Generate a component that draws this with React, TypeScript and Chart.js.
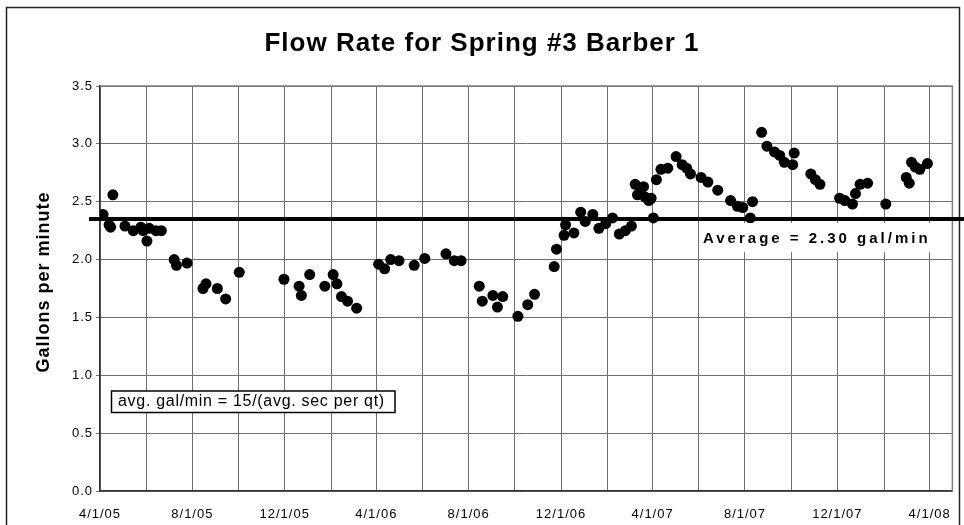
import React, { useEffect, useRef } from "react";
import { Chart, registerables } from "chart.js";

Chart.register(...registerables);

// ---- Data ----
const sampleDates: string[] = [
  "2005-04-05", "2005-04-13", "2005-04-15", "2005-04-18", "2005-05-04", "2005-05-15", "2005-05-25", "2005-05-28",
  "2005-06-02", "2005-06-05", "2005-06-14", "2005-06-21", "2005-07-08", "2005-07-11", "2005-07-25",
  "2005-08-15", "2005-08-19", "2005-09-03", "2005-09-14", "2005-10-02", "2005-11-30",
  "2005-12-20", "2005-12-23", "2006-01-03", "2006-01-23", "2006-02-03", "2006-02-08", "2006-02-14", "2006-02-22",
  "2006-03-06", "2006-04-04", "2006-04-12", "2006-04-20", "2006-05-01", "2006-05-21", "2006-06-04",
  "2006-07-02", "2006-07-13", "2006-07-22", "2006-08-15", "2006-08-19", "2006-09-02", "2006-09-08", "2006-09-15",
  "2006-10-05", "2006-10-18", "2006-10-27", "2006-11-22", "2006-11-25", "2006-12-05", "2006-12-07",
  "2006-12-18", "2006-12-27", "2007-01-02", "2007-01-12", "2007-01-20", "2007-01-29", "2007-02-07",
  "2007-02-16", "2007-02-24", "2007-03-04", "2007-03-09", "2007-03-12", "2007-03-16", "2007-03-20",
  "2007-03-22", "2007-03-27", "2007-03-30", "2007-04-02", "2007-04-06", "2007-04-12", "2007-04-21",
  "2007-05-02", "2007-05-10", "2007-05-16", "2007-05-21", "2007-06-04", "2007-06-13", "2007-06-26",
  "2007-07-13", "2007-07-22", "2007-07-29", "2007-08-08", "2007-08-11", "2007-08-23", "2007-08-30",
  "2007-09-09", "2007-09-16", "2007-09-22", "2007-10-03", "2007-10-05", "2007-10-27", "2007-11-02",
  "2007-11-08", "2007-12-04", "2007-12-11", "2007-12-21", "2007-12-25", "2007-12-31", "2008-01-10",
  "2008-02-03", "2008-03-01", "2008-03-05", "2008-03-08", "2008-03-13", "2008-03-19", "2008-03-29",
];

const flowGpm: number[] = [
  2.39, 2.30, 2.28, 2.56, 2.29, 2.25, 2.28, 2.25,
  2.16, 2.27, 2.25, 2.25, 2.00, 1.95, 1.97,
  1.75, 1.79, 1.75, 1.66, 1.89, 1.83,
  1.77, 1.69, 1.87, 1.77, 1.87, 1.79, 1.68, 1.64,
  1.58, 1.96, 1.92, 2.00, 1.99, 1.95, 2.01,
  2.05, 1.99, 1.99, 1.77, 1.64, 1.69, 1.59, 1.68,
  1.51, 1.61, 1.70, 1.94, 2.09, 2.21, 2.30,
  2.23, 2.41, 2.33, 2.39, 2.27, 2.31, 2.36,
  2.22, 2.25, 2.29, 2.65, 2.56, 2.60, 2.63,
  2.54, 2.51, 2.53, 2.36, 2.69, 2.78, 2.79,
  2.89, 2.82, 2.79, 2.74, 2.71, 2.67, 2.60,
  2.51, 2.46, 2.45, 2.36, 2.50, 3.10, 2.98,
  2.93, 2.90, 2.84, 2.82, 2.92, 2.74, 2.69,
  2.65, 2.53, 2.51, 2.48, 2.57, 2.65, 2.66,
  2.48, 2.71, 2.66, 2.84, 2.80, 2.78, 2.83,
];

// vertical gridlines (every 2 months) and their labels (every 4 months)
const gridDates: string[] = [
  "2005-04-01", "2005-06-01", "2005-08-01", "2005-10-01", "2005-12-01", "2006-02-01",
  "2006-04-01", "2006-06-01", "2006-08-01", "2006-10-01", "2006-12-01", "2007-02-01",
  "2007-04-01", "2007-06-01", "2007-08-01", "2007-10-01", "2007-12-01", "2008-02-01",
  "2008-04-01",
];
const gridLabels: string[] = [
  "4/1/05", "", "8/1/05", "", "12/1/05", "",
  "4/1/06", "", "8/1/06", "", "12/1/06", "",
  "4/1/07", "", "8/1/07", "", "12/1/07", "",
  "4/1/08",
];
const xStart = "2005-04-01";
const xEnd = "2008-05-01";

const yTicks: number[] = [0, 0.5, 1.0, 1.5, 2.0, 2.5, 3.0, 3.5];

const averageLineValue = 2.35;
const averageLabel = "Average = 2.30 gal/min";
const noteText = "avg. gal/min = 15/(avg. sec per qt)";
const titleText = "Flow Rate for Spring #3 Barber 1";
const yTitleText = "Gallons per minute";

const FONT = "'Liberation Sans', Arial, sans-serif";

function dayNum(s: string): number {
  const [y, m, d] = s.split("-").map(Number);
  return Date.UTC(y, m - 1, d) / 86400000;
}

const decorPlugin = {
  id: "decor",
  beforeDraw(chart: any) {
    const ctx = chart.ctx;
    ctx.save();
    ctx.fillStyle = "#ffffff";
    ctx.fillRect(0, 0, chart.width, chart.height);
    ctx.strokeStyle = "#222";
    ctx.lineWidth = 1.5;
    ctx.strokeRect(6.5, 7.5, 953, 540);
    ctx.restore();
    // letter spacing for tick labels drawn by Chart.js
    (ctx as any).letterSpacing = "1px";
  },
  afterDatasetsDraw(chart: any) {
    const ctx = chart.ctx;
    const { chartArea } = chart;
    const yS = chart.scales.y;
    ctx.save();
    // plot frame (top/right)
    ctx.strokeStyle = "#808080";
    ctx.lineWidth = 1.5;
    ctx.beginPath();
    ctx.moveTo(chartArea.left, chartArea.top);
    ctx.lineTo(chartArea.right, chartArea.top);
    ctx.lineTo(chartArea.right, chartArea.bottom);
    ctx.stroke();

    // average line
    const ay = yS.getPixelForValue(averageLineValue);
    ctx.strokeStyle = "#000";
    ctx.lineWidth = 4;
    ctx.beginPath();
    ctx.moveTo(89, ay);
    ctx.lineTo(chart.width, ay);
    ctx.stroke();

    // average label
    ctx.fillStyle = "#fff";
    ctx.fillRect(699, ay + 4, 240, 29);
    ctx.fillStyle = "#000";
    ctx.font = `bold 15px ${FONT}`;
    (ctx as any).letterSpacing = "3px";
    ctx.textAlign = "left";
    ctx.textBaseline = "middle";
    ctx.fillText(averageLabel, 703, ay + 20);

    // note box
    ctx.fillStyle = "#fff";
    ctx.fillRect(111.5, 391, 283.5, 21.5);
    ctx.strokeStyle = "#000";
    ctx.lineWidth = 1.5;
    ctx.strokeRect(111.5, 391, 283.5, 21.5);
    ctx.fillStyle = "#000";
    ctx.font = `16px ${FONT}`;
    (ctx as any).letterSpacing = "0.7px";
    ctx.textBaseline = "middle";
    ctx.fillText(noteText, 118, 402);

    // title
    ctx.font = `bold 26px ${FONT}`;
    (ctx as any).letterSpacing = "1px";
    ctx.textAlign = "center";
    ctx.fillText(titleText, 482, 44);

    // y title
    ctx.translate(44, 282);
    ctx.rotate(-Math.PI / 2);
    ctx.font = `bold 18px ${FONT}`;
    (ctx as any).letterSpacing = "1px";
    ctx.fillText(yTitleText, 0, 0);
    ctx.restore();
  },
};

export default function App() {
  const ref = useRef<HTMLCanvasElement | null>(null);

  useEffect(() => {
    document.body.style.margin = "0";
    const canvas = ref.current;
    if (!canvas) return;
    const points = sampleDates.map((d, i) => ({ x: dayNum(d), y: flowGpm[i] }));
    const gridVals = gridDates.map(dayNum);

    const chart = new Chart(canvas, {
      type: "scatter",
      data: {
        datasets: [
          {
            data: points,
            backgroundColor: "#000",
            borderWidth: 0,
            pointRadius: 5.5,
            pointHoverRadius: 5.5,
          },
        ],
      },
      options: {
        animation: false,
        responsive: false,
        devicePixelRatio: 1,
        layout: { padding: { top: 86, left: 0, right: 9, bottom: 0 } },
        plugins: {
          legend: { display: false },
          tooltip: { enabled: false },
          title: { display: false },
        },
        scales: {
          x: {
            type: "linear",
            min: dayNum(xStart),
            max: dayNum(xEnd),
            afterBuildTicks: (scale: any) => {
              scale.ticks = gridVals.map((v) => ({ value: v }));
            },
            afterFit: (scale: any) => {
              scale.height = 34;
            },
            ticks: {
              autoSkip: false,
              maxRotation: 0,
              minRotation: 0,
              padding: 16,
              color: "#000",
              font: { family: FONT, size: 13 },
              callback: (_v: any, i: number) => gridLabels[i] ?? "",
            },
            grid: { color: "#6e6e6e", lineWidth: 1, drawTicks: false },
            border: { color: "#333", width: 1.5 },
          },
          y: {
            min: 0,
            max: 3.5,
            afterBuildTicks: (scale: any) => {
              scale.ticks = yTicks.map((v) => ({ value: v }));
            },
            afterFit: (scale: any) => {
              scale.width = 100;
            },
            ticks: {
              padding: 3,
              color: "#000",
              font: { family: FONT, size: 13 },
              callback: (v: any) => Number(v).toFixed(1),
            },
            grid: { color: "#6e6e6e", lineWidth: 1, tickLength: 4 },
            border: { color: "#333", width: 1.5 },
          },
        },
      },
      plugins: [decorPlugin],
    });
    return () => chart.destroy();
  }, []);

  return <canvas ref={ref} width={964} height={525} style={{ display: "block", width: 964, height: 525 }} />;
}
